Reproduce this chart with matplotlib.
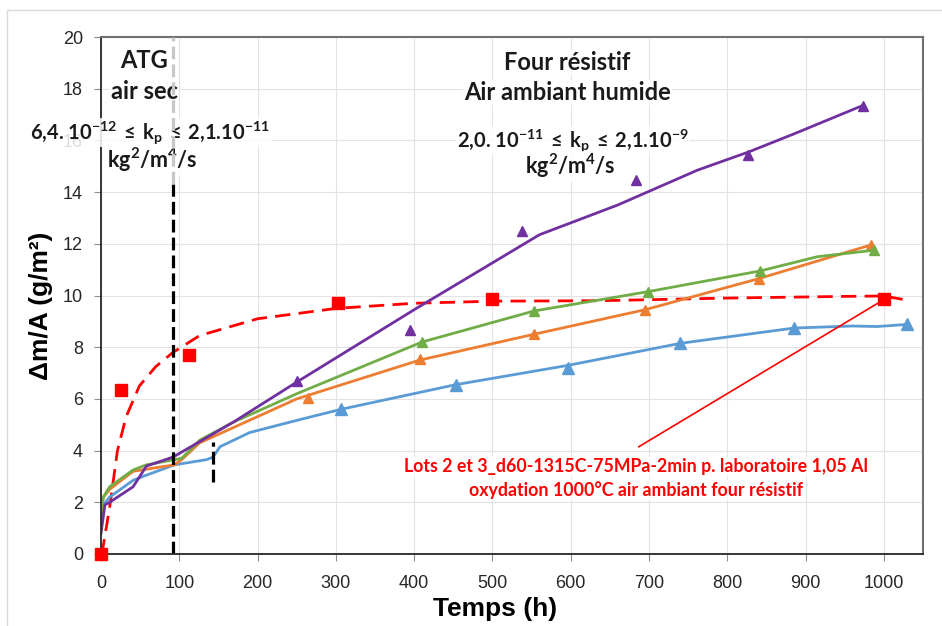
import matplotlib.pyplot as plt
from matplotlib.patches import Rectangle

plt.rcParams['font.family'] = ['Liberation Sans', 'DejaVu Sans']
plt.rcParams['mathtext.default'] = 'regular'

# ---- data ----
red_t = [0, 25, 113, 303, 500, 1000]
red_v = [0, 6.35, 7.7, 9.7, 9.85, 9.85]
fit_t = [0, 2, 11, 21, 32, 49, 70, 92, 126, 200, 300, 400, 500, 640, 800, 960, 1000, 1024]
fit_v = [0, 0.15, 1.8, 4.0, 5.3, 6.5, 7.25, 7.8, 8.45, 9.1, 9.5, 9.7, 9.78, 9.8, 9.9, 9.97, 9.98, 9.85]

purple_t = [250, 395, 538, 683, 827, 973]
purple_v = [6.7, 8.65, 12.5, 14.45, 15.45, 17.35]
purple_lt = [0, 5, 11, 41, 58, 92, 169, 250, 400, 560, 660, 762, 827, 885, 973]
purple_lv = [0.8, 1.9, 2.0, 2.6, 3.4, 3.75, 5.1, 6.65, 9.45, 12.35, 13.5, 14.85, 15.55, 16.25, 17.35]

green_t = [410, 553, 699, 842, 987]
green_v = [8.2, 9.4, 10.15, 10.95, 11.75]
green_lt = [0, 3, 11, 41, 58, 94, 103, 126, 169, 250, 410, 553, 699, 842, 915, 987]
green_lv = [1.4, 2.2, 2.6, 3.25, 3.45, 3.65, 3.7, 4.4, 5.1, 6.2, 8.2, 9.4, 10.15, 10.95, 11.5, 11.75]

orange_t = [265, 407, 553, 695, 840, 983]
orange_v = [6.05, 7.55, 8.5, 9.45, 10.65, 11.95]
orange_lt = [0, 3, 11, 41, 94, 103, 126, 250, 407, 553, 695, 840, 983]
orange_lv = [1.7, 2.2, 2.5, 3.2, 3.45, 3.65, 4.3, 6.0, 7.5, 8.5, 9.45, 10.65, 11.95]

blue_t = [307, 453, 597, 740, 885, 1029]
blue_v = [5.6, 6.55, 7.2, 8.15, 8.74, 8.88]
blue_lt = [0, 3, 11, 41, 58, 94, 135, 143, 152, 190, 254, 307, 453, 597, 740, 885, 960, 992, 1029]
blue_lv = [1.5, 1.9, 2.2, 2.85, 3.05, 3.45, 3.65, 3.75, 4.15, 4.7, 5.2, 5.6, 6.55, 7.3, 8.15, 8.74, 8.82, 8.8, 8.88]

xticks = list(range(0, 1001, 100))
yticks = list(range(0, 21, 2))

fig = plt.figure(figsize=(9.42, 6.26), dpi=100)
fig.patches.append(Rectangle((7 / 942, -0.05), 1.1, 1 - 10 / 626 + 0.05,
                             transform=fig.transFigure, fill=False,
                             edgecolor='#d9d9d9', linewidth=1))
ax = fig.add_axes([101 / 942, 1 - 554 / 626, (923 - 101) / 942, (554 - 37) / 626])

ax.grid(True, color='#e3e3e3', linewidth=0.8)
ax.set_axisbelow(True)

ax.plot(fit_t, fit_v, color='#ff0000', linewidth=2.0, dashes=(5.5, 3))
ax.plot(red_t, red_v, 's', color='#ff0000', markersize=8, linestyle='none', clip_on=False, zorder=5)

ax.plot(blue_lt, blue_lv, color='#5b9bd5', linewidth=2)
ax.plot(blue_t, blue_v, '^', color='#5b9bd5', markersize=8, linestyle='none')
ax.plot(orange_lt, orange_lv, color='#ed7d31', linewidth=2)
ax.plot(orange_t, orange_v, '^', color='#ed7d31', markersize=7, linestyle='none')
ax.plot(green_lt, green_lv, color='#70ad47', linewidth=2)
ax.plot(green_t, green_v, '^', color='#70ad47', markersize=7, linestyle='none')
ax.plot(purple_lt, purple_lv, color='#7030a0', linewidth=2)
ax.plot(purple_t, purple_v, '^', color='#7030a0', markersize=7, linestyle='none')

# vertical separators
ax.plot([92, 92], [0, 14.3], color='black', linewidth=2.3, dashes=(4, 1.6))
ax.plot([92, 92], [14.3, 20], color='#c8c8c8', linewidth=2.3, dashes=(4, 1.6), zorder=4)
ax.plot([143, 143], [2.8, 4.35], color='black', linewidth=2.3, dashes=(4, 1.6))

# annotation arrow line
ax.plot([687, 995], [4.15, 9.75], color='#ff0000', linewidth=1.2)

ax.set_xlim(0, 1050)
ax.set_ylim(0, 20)
ax.set_xticks(xticks)
ax.set_yticks(yticks)
ax.tick_params(labelsize=13, length=5, color='#8c8c8c', labelcolor='#262626')
ax.tick_params(axis='x', pad=10)
ax.tick_params(axis='y', pad=8)

for s in ['left', 'bottom']:
    ax.spines[s].set_color('#262626')
    ax.spines[s].set_linewidth(1.3)
for s in ['top', 'right']:
    ax.spines[s].set_color('#707070')
    ax.spines[s].set_linewidth(1.5)

ax.set_xlabel('Temps (h)', fontsize=19, fontweight='bold')
ax.xaxis.set_label_coords(0.48, -0.083)
ax.set_ylabel('Δm/A (g/m²)', fontsize=19, fontweight='bold')
ax.yaxis.set_label_coords(-0.058, 0.48)

wbox = dict(facecolor='white', edgecolor='none', pad=1, alpha=0.85)
tfont = dict(family=['Lato', 'DejaVu Sans'], fontweight='bold', color='#1a1a1a',
             ha='center', va='center', bbox=wbox)
ax.text(55, 19.1, 'ATG', fontsize=17, **tfont)
ax.text(55, 17.9, 'air sec', fontsize=17, **tfont)
ax.text(63, 16.3, r'6,4. 10$^{-12}\,\leq\,k_{p}\,\leq\,2$,1.10$^{-11}$', fontsize=14.5, **tfont)
ax.text(66, 15.25, r'kg$^{2}$/m$^{4}$/s', fontsize=15.5, **tfont)
ax.text(596, 19.0, 'Four résistif', fontsize=17, **tfont)
ax.text(596, 17.85, 'Air ambiant humide', fontsize=17, **tfont)
ax.text(603, 16.0, r'2,0. 10$^{-11}\,\leq\,k_{p}\,\leq\,2$,1.10$^{-9}$', fontsize=14.5, **tfont)
ax.text(600, 15.0, r'kg$^{2}$/m$^{4}$/s', fontsize=15.5, **tfont)

rfont = dict(family=['Lato', 'DejaVu Sans'], fontweight='bold', color='#ff0000',
             ha='center', va='center', fontsize=12.8, bbox=wbox)
ax.text(684, 3.37, 'Lots 2 et 3_d60-1315C-75MPa-2min p. laboratoire 1,05 Al', **rfont)
ax.text(684, 2.48, 'oxydation 1000°C air ambiant four résistif', **rfont)

fig.savefig('out.png', dpi=100)
